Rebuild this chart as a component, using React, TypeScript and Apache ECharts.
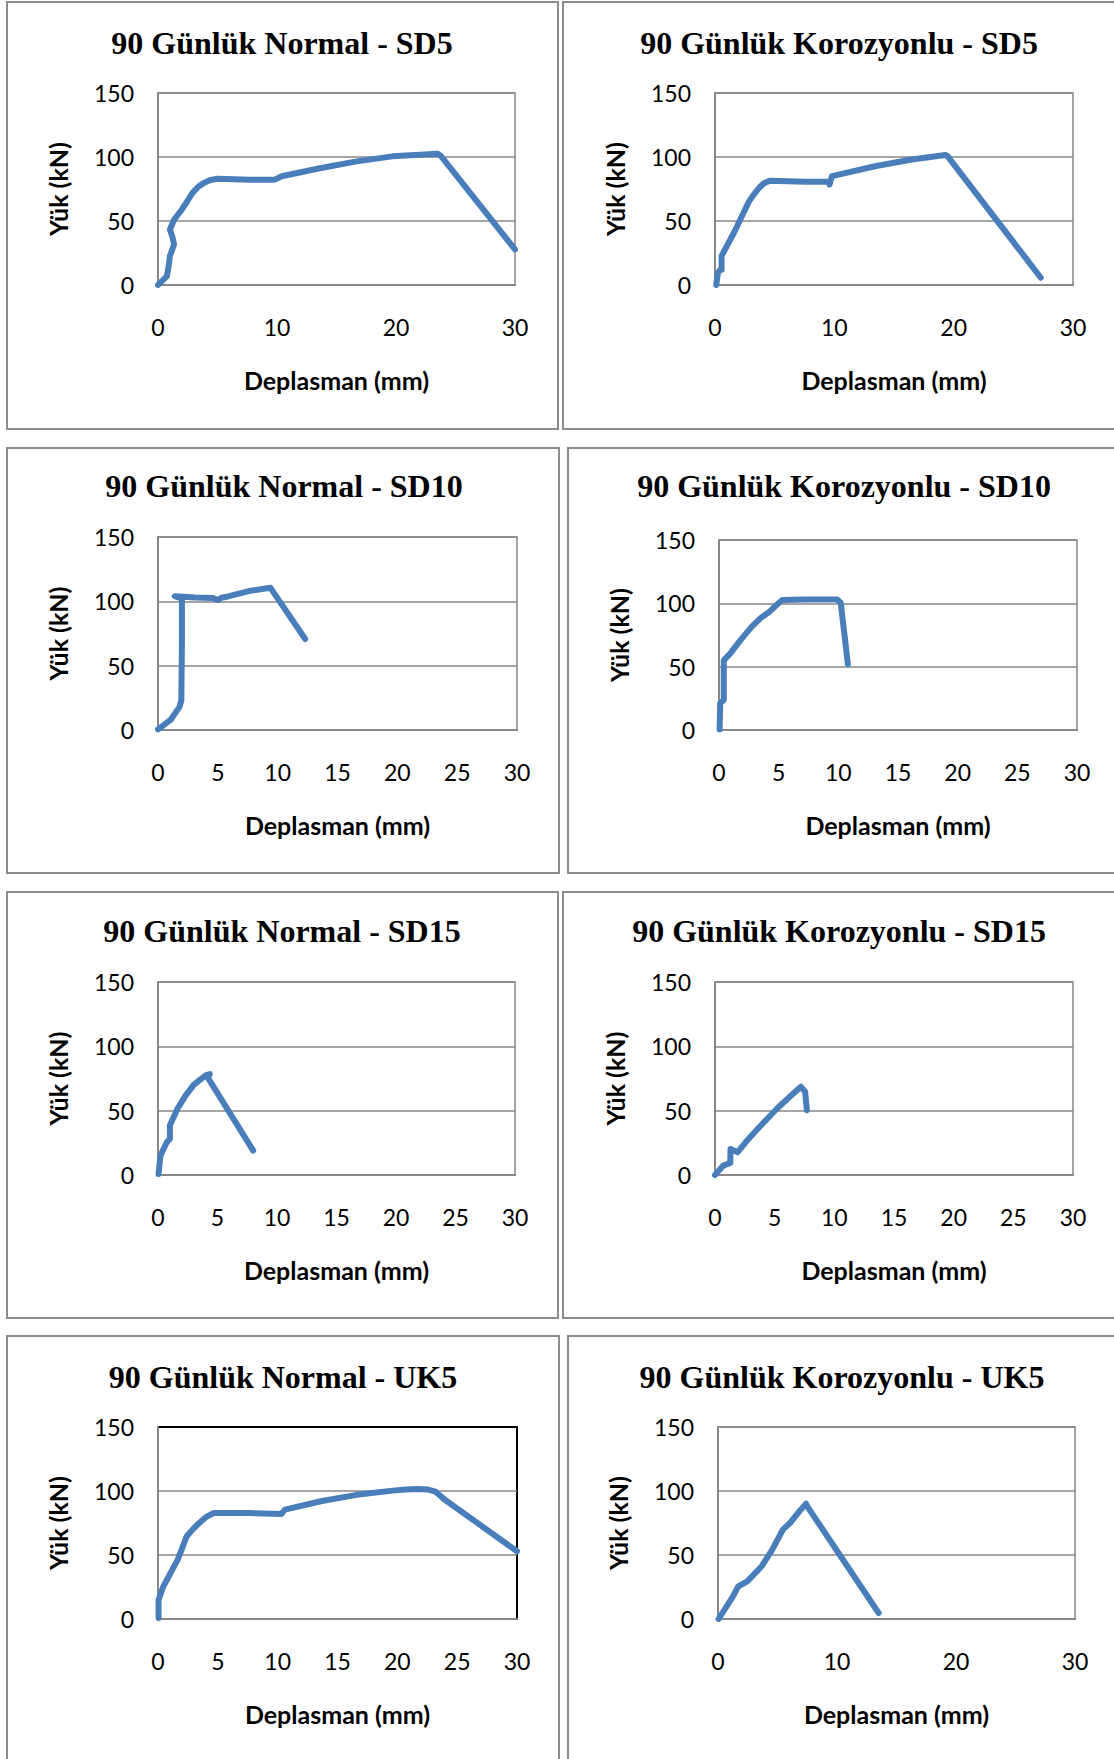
import React, { useEffect, useRef } from "react";
import * as echarts from "echarts";

// ---- data (Deplasman mm, Yük kN) ----
const normalSD5: number[][] = [
  [0, 0], [0.75, 7], [0.9, 15], [1.0, 22.6], [1.35, 31.7], [1.2, 38], [1.0, 43.4],
  [1.35, 51], [2.0, 59], [2.5, 66], [2.9, 72], [3.3, 76], [3.8, 79.5], [4.4, 82],
  [5.0, 83], [7.7, 82.3], [9.8, 82.3],
  [10.4, 85], [13.7, 91.4], [16.7, 96.6], [19.7, 100.5], [23.5, 102.6], [23.8, 100.5], [30, 27.8],
];
const korozSD5: number[][] = [
  [0.1, 0], [0.25, 9.7], [0.45, 12], [0.55, 12], [0.55, 22.7], [1.6, 41], [2.8, 64.5],
  [3.2, 70], [3.7, 76], [4.1, 79.5], [4.6, 81.5], [7.6, 80.7], [9.5, 80.7], [9.6, 78.5],
  [9.8, 85], [13.5, 93], [16.5, 98], [19.3, 101.6], [19.5, 100.5], [27.3, 5.7],
];
const normalSD10: number[][] = [
  [0, 0.5], [1.05, 7.8], [1.8, 18], [1.95, 23], [2.0, 70], [2.0, 102], [1.4, 104],
  [3.1, 103], [4.6, 102.5], [5.0, 101], [5.3, 102.8], [5.85, 103.8], [7.6, 108],
  [9.4, 110.5], [12.3, 70.7],
];
const korozSD10: number[][] = [
  [0.05, 0.5], [0.1, 21], [0.4, 23.7], [0.4, 55], [0.95, 60.5], [1.8, 71], [2.75, 81.6],
  [3.5, 88.5], [4.24, 93.4], [4.8, 98.5], [5.3, 102.6], [7.2, 103], [9.9, 103], [10.2, 100.5], [10.8, 52],
];
const normalSD15: number[][] = [
  [0.05, 0.8], [0.2, 15], [0.75, 25.6], [1.0, 28], [1.0, 38.6], [1.65, 51.7],
  [2.3, 61.5], [3.0, 70], [3.6, 74.5], [4.07, 77.7], [4.35, 78.5], [4.2, 75.5], [8.0, 19],
];
const korozSD15: number[][] = [
  [0, 0], [0.7, 7.3], [1.28, 9.4], [1.3, 20.3], [1.9, 17.7], [2.8, 28], [4.0, 40],
  [5.2, 51.7], [6.4, 62], [7.2, 68.6], [7.55, 64.7], [7.7, 50.4],
];
const normalUK5: number[][] = [
  [0.05, 0.8], [0.05, 15], [0.45, 25.5], [1.65, 46.4], [2.4, 64.6], [2.9, 70], [3.44, 75],
  [4.0, 79.5], [4.64, 82.8], [7.6, 82.8], [10.3, 82], [10.6, 85.4], [13.6, 92], [16.6, 97],
  [19.6, 100.3], [20.7, 101.2], [21.7, 101.6], [22.5, 101.2], [23.2, 99.5], [24, 93], [30, 52.9],
];
const korozUK5: number[][] = [
  [0.05, 0], [1.26, 17.7], [1.7, 25.5], [2.46, 29.4], [3.65, 41], [4.55, 54],
  [5.45, 69.8], [6.05, 75], [6.95, 85.4], [7.4, 90], [7.5, 88], [13.5, 4.7],
];

const titles = [
  "90 Günlük Normal - SD5", "90 Günlük Korozyonlu - SD5",
  "90 Günlük Normal - SD10", "90 Günlük Korozyonlu - SD10",
  "90 Günlük Normal - SD15", "90 Günlük Korozyonlu - SD15",
  "90 Günlük Normal - UK5", "90 Günlük Korozyonlu - UK5",
];
const seriesData = [normalSD5, korozSD5, normalSD10, korozSD10, normalSD15, korozSD15, normalUK5, korozUK5];
const xIntervals = [10, 10, 5, 5, 5, 5, 5, 10];
const xMin = 0, xMax = 30;
const yMin = 0, yMax = 150, yInterval = 50;
const xName = "Deplasman (mm)";
const yName = "Yük (kN)";

// ---- layout ----
const layout = [
  { box: [7, 2, 551, 427], grid: [158, 93, 357, 192], title: [282, 43] },
  { box: [563, 2, 560, 427], grid: [715, 93, 358, 192], title: [839, 43] },
  { box: [7, 448, 552, 425], grid: [158, 537, 359, 193], title: [284, 486] },
  { box: [568, 448, 560, 425], grid: [719, 540, 358, 190], title: [844, 486] },
  { box: [7, 892, 551, 426], grid: [158, 982, 357, 193], title: [282, 931] },
  { box: [563, 892, 560, 426], grid: [715, 982, 358, 193], title: [839, 931] },
  { box: [7, 1336, 552, 500], grid: [158, 1427, 359, 192], title: [283, 1377] },
  { box: [568, 1336, 560, 500], grid: [718, 1427, 357, 192], title: [842, 1377] },
];

const LINE = "#4a7ebb";
const GRIDC = "#878787";
const SANS = "Lato";
const SERIF = "Liberation Serif";

export default function App() {
  const ref = useRef<HTMLDivElement>(null);
  useEffect(() => {
    document.body.style.margin = "0";
    const chart = echarts.init(ref.current!, undefined, { renderer: "svg" });
    const grids: any[] = [];
    const xAxes: any[] = [];
    const yAxes: any[] = [];
    const series: any[] = [];
    const graphics: any[] = [];
    layout.forEach((l, i) => {
      const [gl, gt, gw, gh] = l.grid;
      const blackFrame = i === 6;
      grids.push({
        left: gl, top: gt, width: gw, height: gh,
        show: true, backgroundColor: "#fff",
        borderColor: blackFrame ? "#000" : GRIDC, borderWidth: blackFrame ? 2 : 1.5,
      });
      xAxes.push({
        type: "value", gridIndex: i, min: xMin, max: xMax, interval: xIntervals[i],
        axisLine: { show: true, onZero: false, lineStyle: { color: GRIDC, width: 2 } },
        axisTick: { show: false },
        splitLine: { show: false },
        axisLabel: { color: "#000", fontFamily: SANS, fontSize: 23, margin: 30 },
      });
      yAxes.push({
        type: "value", gridIndex: i, min: yMin, max: yMax, interval: yInterval,
        axisLine: { show: true, onZero: false, lineStyle: { color: GRIDC, width: 2 } },
        axisTick: { show: false },
        splitLine: { show: true, showMaxLine: !blackFrame, lineStyle: { color: GRIDC, width: 1.5 } },
        axisLabel: { color: "#000", fontFamily: SANS, fontSize: 23, margin: 24 },
      });
      series.push({
        type: "line", xAxisIndex: i, yAxisIndex: i, data: seriesData[i],
        showSymbol: false, symbol: "none", smooth: false, clip: true,
        lineStyle: { color: LINE, width: 6, join: "round", cap: "round" },
      });
      const [bx, by, bw, bh] = l.box;
      graphics.push({
        type: "rect", shape: { x: bx, y: by, width: bw, height: bh }, z: -10,
        style: { fill: "#fff", stroke: "#8c8c8c", lineWidth: 2 },
      });
      graphics.push({
        type: "text", x: l.title[0], y: l.title[1],
        style: {
          text: titles[i], fill: "#000", font: `bold 32px "${SERIF}"`,
          textAlign: "center", textVerticalAlign: "middle",
        },
      });
      graphics.push({
        type: "text", x: gl + gw / 2, y: gt + gh + 95,
        style: {
          text: xName, fill: "#000", font: `bold 25px "${SANS}"`,
          textAlign: "center", textVerticalAlign: "middle",
        },
      });
      graphics.push({
        type: "text", x: gl - 100, y: gt + gh / 2, rotation: Math.PI / 2,
        style: {
          text: yName, fill: "#000", font: `bold 25px "${SANS}"`,
          textAlign: "center", textVerticalAlign: "middle",
        },
      });
    });
    chart.setOption({
      animation: false,
      backgroundColor: "#fff",
      grid: grids,
      xAxis: xAxes,
      yAxis: yAxes,
      series,
      graphic: graphics,
    });
    return () => chart.dispose();
  }, []);
  return <div ref={ref} style={{ width: 1114, height: 1759 }} />;
}
